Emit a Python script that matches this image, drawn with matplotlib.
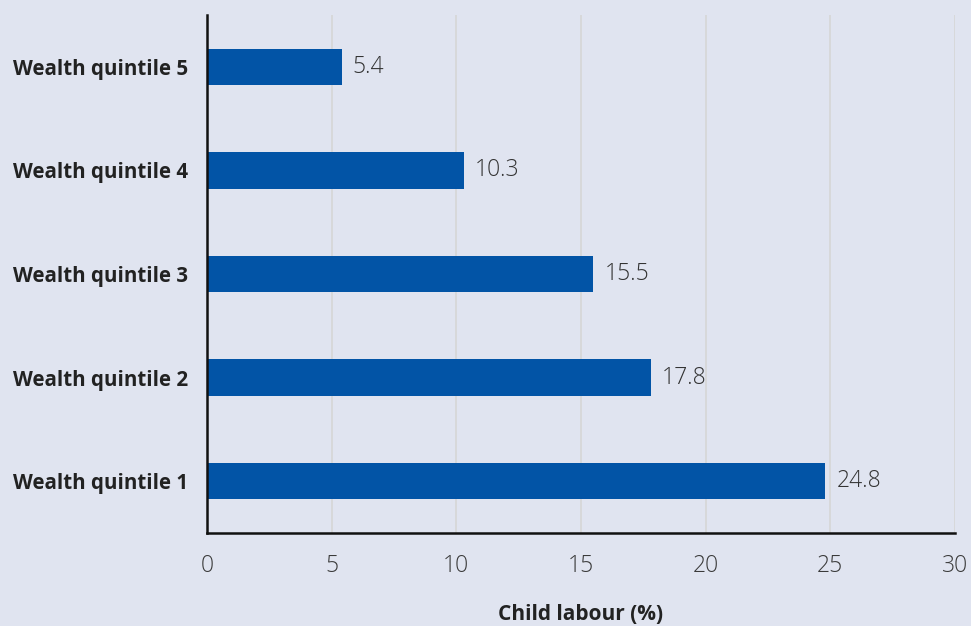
import matplotlib
matplotlib.use("Agg")
import matplotlib.pyplot as plt

categories = ["Wealth quintile 1", "Wealth quintile 2", "Wealth quintile 3",
              "Wealth quintile 4", "Wealth quintile 5"]
values = [24.8, 17.8, 15.5, 10.3, 5.4]
xticks = [0, 5, 10, 15, 20, 25, 30]
xlabel = "Child labour (%)"

bg = "#E0E4F0"
bar_color = "#0254A6"
text_color = "#222222"

plt.rcParams['font.family'] = ['Open Sans', 'DejaVu Sans']

fig = plt.figure(figsize=(9.71, 6.26), dpi=100, facecolor=bg)
ax = fig.add_axes([207/971, 1-533/626, (955-207)/971, (533-15)/626])
ax.set_facecolor(bg)

y = list(range(len(categories)))
ax.barh(y, values, height=0.35, color=bar_color, zorder=3)
for yi, v in zip(y, values):
    ax.text(v + 0.45, yi, f"{v}", va="center", ha="left", fontsize=16.5,
            fontweight="light", color="#333333", zorder=4)

ax.set_xlim(0, 30)
ax.set_ylim(-0.5, 4.5)
ax.set_xticks(xticks)
ax.set_xticklabels([str(t) for t in xticks], fontsize=16.5, fontweight="light", color="#3a3a3a")
ax.set_yticks(y)
ax.set_yticklabels(categories, fontsize=14.8, fontweight="bold", color=text_color)
ax.tick_params(axis="both", length=0)
ax.tick_params(axis="x", pad=15)
ax.tick_params(axis="y", pad=13.5)
ax.xaxis.grid(True, color="#D6D6D6", linewidth=1.2, zorder=0)
ax.set_axisbelow(True)
for s in ["top", "right"]:
    ax.spines[s].set_visible(False)
for s in ["left", "bottom"]:
    ax.spines[s].set_color("#111111")
    ax.spines[s].set_linewidth(1.8)
    ax.spines[s].set_zorder(5)
ax.set_xlabel(xlabel, fontsize=15, fontweight="bold", color=text_color, labelpad=19)

fig.savefig("out.png", dpi=100, facecolor=bg)
